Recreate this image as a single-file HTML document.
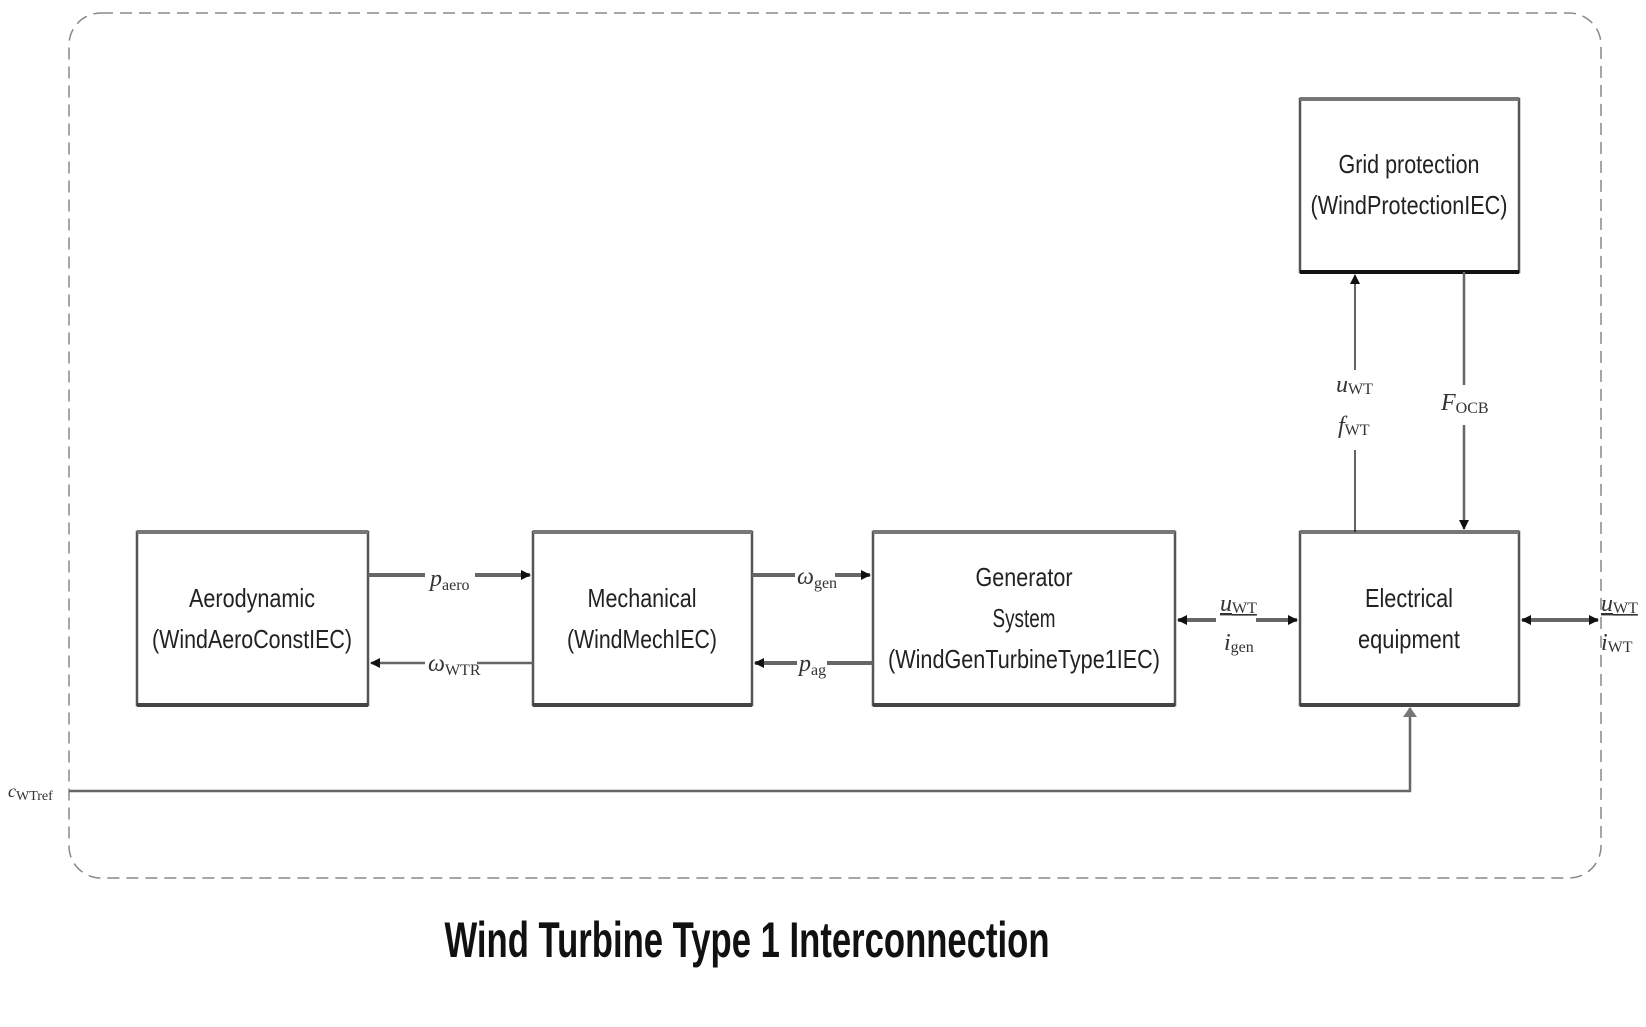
<!DOCTYPE html>
<html><head><meta charset="utf-8"><style>
html,body{margin:0;padding:0;background:#fff;}
svg{display:block;}
.b{font-family:"Liberation Sans",sans-serif;font-size:26px;fill:#222;text-anchor:middle;}
.m{font-family:"Liberation Serif",serif;font-style:italic;font-size:24px;fill:#333;}
.s{font-family:"Liberation Serif",serif;font-style:normal;font-size:16px;}
</style></head><body>
<svg width="1646" height="1027" viewBox="0 0 1646 1027" xmlns="http://www.w3.org/2000/svg">
<defs>
<marker id="a" markerWidth="10" markerHeight="10" refX="9" refY="5" orient="auto" markerUnits="userSpaceOnUse"><path d="M0,0 L10,5 L0,10 z" fill="#111"/></marker>
<marker id="g" markerWidth="10" markerHeight="14" refX="9" refY="7" orient="auto" markerUnits="userSpaceOnUse"><path d="M0,0 L10,7 L0,14 z" fill="#777"/></marker>
</defs>
<rect x="69" y="13" width="1532" height="865" rx="32" fill="none" stroke="#888" stroke-width="1.5" stroke-dasharray="12,7"/>
<g fill="#fff" stroke="#555" stroke-width="2.5">
<rect x="137" y="532" width="231" height="173"/>
<rect x="533" y="532" width="219" height="173"/>
<rect x="873" y="532" width="302" height="173"/>
<rect x="1300" y="532" width="219" height="173"/>
<rect x="1300" y="99" width="219" height="173"/>
</g>
<g stroke="#222" stroke-width="4" fill="none">
<line x1="137" y1="532" x2="368" y2="532" stroke="#777"/><line x1="137" y1="705" x2="368" y2="705" stroke="#444"/>
<line x1="533" y1="532" x2="752" y2="532" stroke="#777"/><line x1="533" y1="705" x2="752" y2="705" stroke="#444"/>
<line x1="873" y1="532" x2="1175" y2="532" stroke="#777"/><line x1="873" y1="705" x2="1175" y2="705" stroke="#444"/>
<line x1="1300" y1="532" x2="1519" y2="532" stroke="#777"/><line x1="1300" y1="705" x2="1519" y2="705" stroke="#444"/>
<line x1="1300" y1="99" x2="1519" y2="99" stroke="#777"/><line x1="1300" y1="272" x2="1519" y2="272" stroke="#111"/>
</g>
<text class="b" x="252" y="607" textLength="126" lengthAdjust="spacingAndGlyphs">Aerodynamic</text><text class="b" x="252" y="648" textLength="200" lengthAdjust="spacingAndGlyphs">(WindAeroConstIEC)</text>
<text class="b" x="642" y="607" textLength="109" lengthAdjust="spacingAndGlyphs">Mechanical</text><text class="b" x="642" y="648" textLength="150" lengthAdjust="spacingAndGlyphs">(WindMechIEC)</text>
<text class="b" x="1024" y="586" textLength="97" lengthAdjust="spacingAndGlyphs">Generator</text><text class="b" x="1024" y="627" textLength="63" lengthAdjust="spacingAndGlyphs">System</text><text class="b" x="1024" y="668" textLength="272" lengthAdjust="spacingAndGlyphs">(WindGenTurbineType1IEC)</text>
<text class="b" x="1409" y="607" textLength="88" lengthAdjust="spacingAndGlyphs">Electrical</text><text class="b" x="1409" y="648" textLength="102" lengthAdjust="spacingAndGlyphs">equipment</text>
<text class="b" x="1409" y="173" textLength="141" lengthAdjust="spacingAndGlyphs">Grid protection</text><text class="b" x="1409" y="214" textLength="197" lengthAdjust="spacingAndGlyphs">(WindProtectionIEC)</text>
<g stroke="#666" stroke-width="4" fill="none">
<line x1="368" y1="575" x2="530" y2="575" marker-end="url(#a)"/>
<line x1="533" y1="663" x2="371" y2="663" stroke-width="2.5" marker-end="url(#a)"/>
<line x1="752" y1="575" x2="870" y2="575" marker-end="url(#a)"/>
<line x1="873" y1="663" x2="755" y2="663" marker-end="url(#a)"/>
<line x1="1238" y1="620" x2="1178" y2="620" marker-end="url(#a)"/>
<line x1="1238" y1="620" x2="1297" y2="620" marker-end="url(#a)"/>
<line x1="1560" y1="620" x2="1522" y2="620" marker-end="url(#a)"/>
<line x1="1560" y1="620" x2="1598" y2="620" marker-end="url(#a)"/>
<polyline points="69,791 1410,791 1410,708" stroke-width="2.5" marker-end="url(#g)"/>
<line x1="1464" y1="272" x2="1464" y2="529" stroke-width="2.5" marker-end="url(#a)"/>
</g>
<line x1="1355" y1="532" x2="1355" y2="275" stroke="#111" stroke-width="1.3" marker-end="url(#a)"/>
<g>
<rect x="425" y="565" width="50" height="30" fill="#fff"/><text class="m" x="430" y="586">p<tspan class="s" dy="4">aero</tspan></text>
<rect x="425" y="652" width="52" height="26" fill="#fff"/><text class="m" x="428" y="671">ω<tspan class="s" dy="4">WTR</tspan></text>
<rect x="795" y="565" width="40" height="26" fill="#fff"/><text class="m" x="797" y="584">ω<tspan class="s" dy="4">gen</tspan></text>
<rect x="797" y="652" width="30" height="28" fill="#fff"/><text class="m" x="799" y="671">p<tspan class="s" dy="4">ag</tspan></text>
<rect x="1216" y="592" width="40" height="70" fill="#fff"/>
<text class="m" x="1220" y="611" text-decoration="underline">u<tspan class="s" dy="2">WT</tspan></text>
<text class="m" x="1224" y="650">i<tspan class="s" dy="2">gen</tspan></text>
<text class="m" x="1601" y="611" text-decoration="underline">u<tspan class="s" dy="2">WT</tspan></text>
<text class="m" x="1601" y="650">i<tspan class="s" dy="2">WT</tspan></text>
<rect x="1335" y="370" width="40" height="80" fill="#fff"/>
<text class="m" x="1336" y="392">u<tspan class="s" dy="2">WT</tspan></text>
<text class="m" x="1338" y="433">f<tspan class="s" dy="2">WT</tspan></text>
<rect x="1440" y="385" width="52" height="40" fill="#fff"/>
<text class="m" x="1441" y="410">F<tspan class="s" dy="3">OCB</tspan></text>
<text class="m" x="8" y="797" style="font-size:18px">c<tspan class="s" dy="3" style="font-size:14px">WTref</tspan></text>
</g>
<text x="747" y="957" textLength="605" lengthAdjust="spacingAndGlyphs" style="font-family:'Liberation Sans',sans-serif;font-weight:bold;font-size:50px;fill:#111;text-anchor:middle">Wind Turbine Type 1 Interconnection</text>
</svg>
</body></html>
